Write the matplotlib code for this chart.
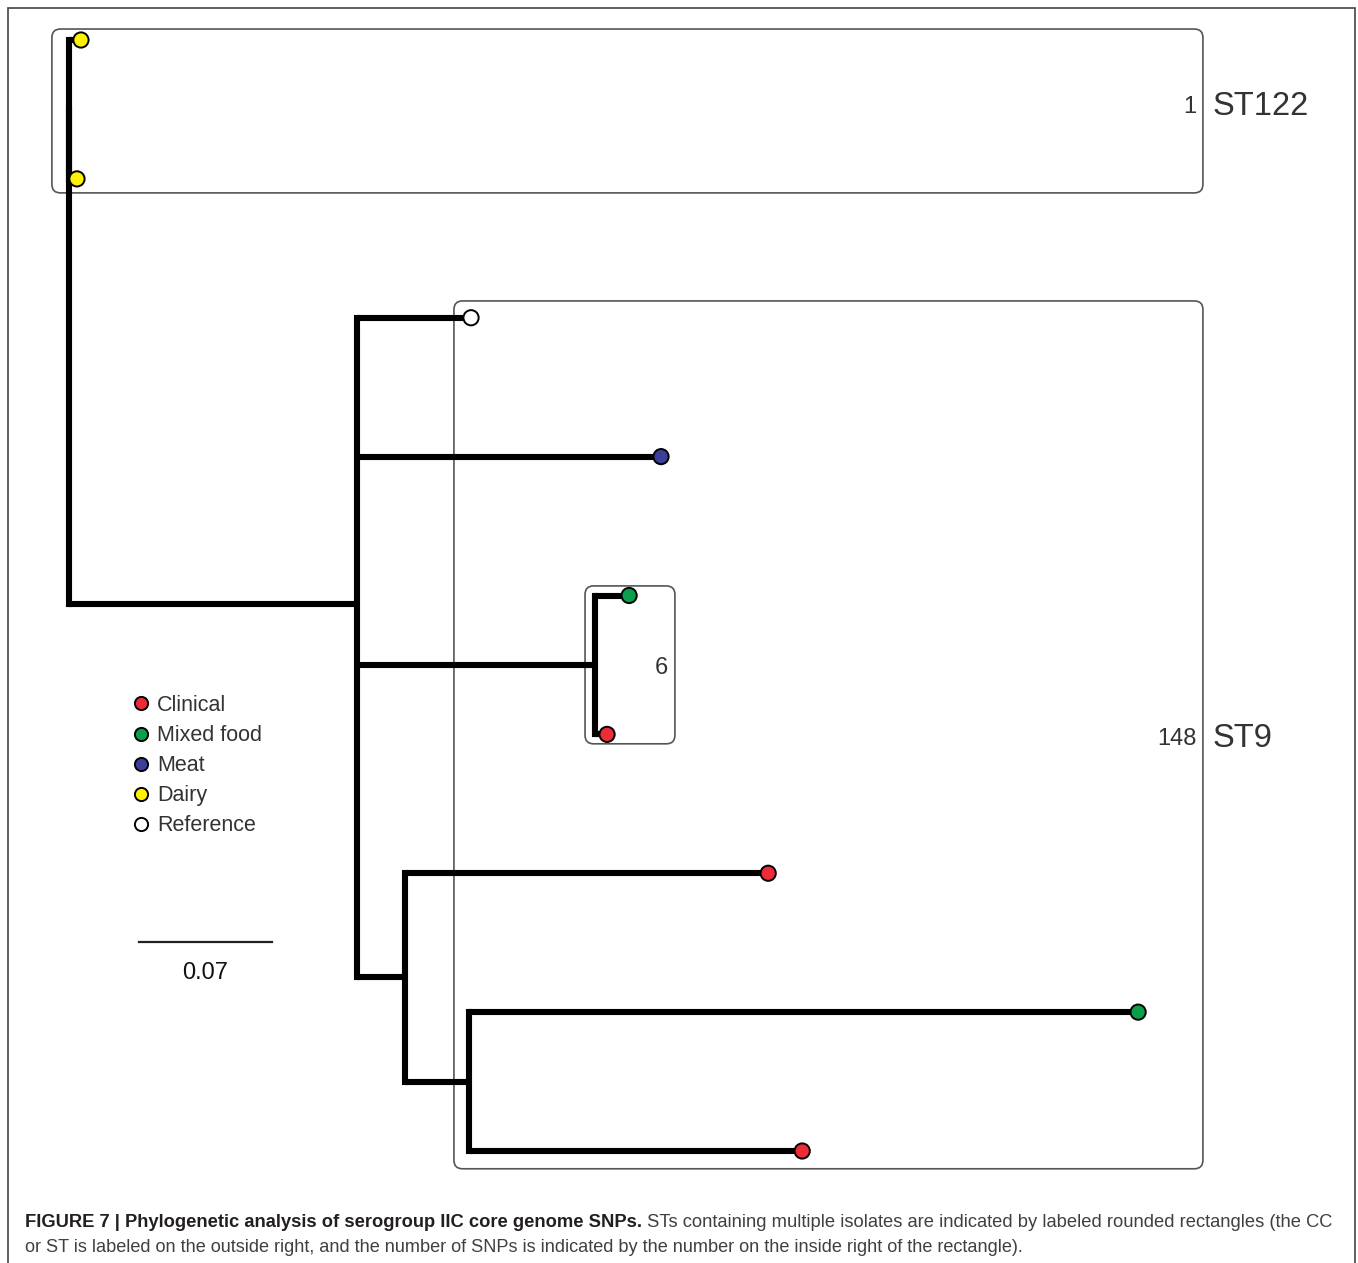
import matplotlib
matplotlib.use("Agg")
import matplotlib.pyplot as plt
from matplotlib.patches import FancyBboxPatch, Rectangle
from matplotlib.lines import Line2D

plt.rcParams['font.family'] = ['Liberation Sans', 'DejaVu Sans']

# isolate sources and their colours
categories = ["Clinical", "Mixed food", "Meat", "Dairy", "Reference"]
cat_colors = ["#ec2d37", "#0b9f4c", "#3b3f98", "#fff200", "#ffffff"]

# tips from top to bottom
leaf_source = ["Dairy", "Dairy", "Reference", "Meat", "Mixed food",
               "Clinical", "Clinical", "Mixed food", "Clinical"]
leaf_parent = [1, 1, 2, 2, 3, 3, 4, 5, 5]
leaf_length = [0.0063, 0.0042, 0.0600, 0.1600, 0.0179, 0.0063, 0.1911, 0.3521, 0.1753]

# internal nodes: 0 root, 1 ST122, 2 ST9, 3 pair inside ST9, 4 and 5 lower clade
node_parent = [-1, 0, 0, 2, 2, 4]
node_length = [0.0, 0.0, 0.1516, 0.1253, 0.0253, 0.0337]

# sequence types boxed on the tree
st_names = ["ST122", "ST9", ""]
st_snps = [1, 148, 6]

scale_len = 0.07

caption_bold = "FIGURE 7 | Phylogenetic analysis of serogroup IIC core genome SNPs."
caption_rest = " STs containing multiple isolates are indicated by labeled rounded rectangles (the CC"
caption_line2 = ("or ST is labeled on the outside right, and the number of SNPs is indicated "
                 "by the number on the inside right of the rectangle).")

W, H = 1358, 1263
fig = plt.figure(figsize=(W / 100, H / 100), dpi=100)
ax = fig.add_axes([0, 0, 1, 1])
ax.axis("off")

# tree units -> 1900 px per unit, tips 138.9 px apart
ux, uy = 1900.0, 138.875
ax.set_xlim(-69 / ux, (W - 69) / ux)
ax.set_ylim((H - 40) / uy, -40 / uy)

# node x = cumulative branch length
n_nodes = len(node_parent)
node_x = [0.0] * n_nodes
for i in range(n_nodes):
    if node_parent[i] >= 0:
        node_x[i] = node_x[node_parent[i]] + node_length[i]
leaf_x = [node_x[p] + l for p, l in zip(leaf_parent, leaf_length)]
leaf_y = list(range(len(leaf_parent)))

# children of each internal node as (x, y) pairs; y = mean of children
node_y = [None] * n_nodes
children = {i: [] for i in range(n_nodes)}
for i in reversed(range(n_nodes)):
    kids = [(leaf_x[j], leaf_y[j]) for j in range(len(leaf_parent)) if leaf_parent[j] == i]
    kids += [(node_x[k], node_y[k]) for k in range(n_nodes) if node_parent[k] == i]
    children[i] = kids
    node_y[i] = sum(k[1] for k in kids) / len(kids)

lw = 4.4
for i in range(n_nodes):
    ys = [k[1] for k in children[i]]
    ax.plot([node_x[i], node_x[i]], [min(ys), max(ys)], color="black", lw=lw,
            solid_capstyle="projecting", zorder=3)
    for kx, ky in children[i]:
        ax.plot([node_x[i], kx], [ky, ky], color="black", lw=lw,
                solid_capstyle="butt", zorder=3)

color_of = dict(zip(categories, cat_colors))
ax.scatter(leaf_x, leaf_y, s=120, c=[color_of[s] for s in leaf_source],
           edgecolors="black", linewidths=1.4, zorder=5)

# rounded rectangles around the STs (x0, x1, y0, y1 in tree units / tip rows)
box_extent = [(-0.0090, 0.5968, -0.079, 1.101),
              (0.2026, 0.5968, 1.879, 8.128),
              (0.2716, 0.3189, 3.931, 5.068)]
label_y = [0.48, 5.03, 4.52]
for (x0, x1, y0, y1), name, snp, ly in zip(box_extent, st_names, st_snps, label_y):
    box = FancyBboxPatch((x0, y0), x1 - x0, y1 - y0,
                         boxstyle="round,pad=0,rounding_size=0.0045",
                         mutation_aspect=ux / uy, fc="none", ec="#555555",
                         lw=1.2, zorder=2)
    ax.add_patch(box)
    ax.text(x1 - 0.0035, ly, str(snp), ha="right", va="center",
            fontsize=17, color="#333333")
    if name:
        ax.text(x1 + 0.0053, ly, name, ha="left", va="center",
                fontsize=23.5, color="#333333")

# scale bar
sb_x, sb_y = 0.0368, 6.494
ax.plot([sb_x, sb_x + scale_len], [sb_y, sb_y], color="#222222", lw=1.6)
ax.text(sb_x + scale_len / 2, 6.715, f"{scale_len:g}", ha="center", va="center",
        fontsize=17, color="#111111")

# legend
handles = [Line2D([], [], ls="", marker="o", ms=9.5, mfc=c, mec="black", mew=1.4)
           for c in cat_colors]
ax.legend(handles, categories, loc="upper left",
          bbox_to_anchor=(132 / W, 1 - 695 / H), bbox_transform=fig.transFigure,
          frameon=False, fontsize=15.5, labelspacing=0.42, handlelength=0.8,
          handletextpad=0.35, borderpad=0, borderaxespad=0, labelcolor="#333333")

# outer frame
fig.add_artist(Rectangle((8 / W, -0.02), (1355 - 8) / W, 1.02 - 8 / H,
                         transform=fig.transFigure, fc="none", ec="#444444", lw=1.2))

# caption
c1 = fig.text(25 / W, 1 - 1227 / H, caption_bold, fontsize=13.2, fontweight="bold",
              color="#231f20", va="baseline")
ax.annotate(caption_rest, xy=(1, 0), xycoords=c1, va="bottom", ha="left",
            fontsize=13.2, color="#404040")
fig.text(25 / W, 1 - 1252 / H, caption_line2, fontsize=13.1, color="#404040",
         va="baseline")

fig.savefig("out.png", dpi=100)
